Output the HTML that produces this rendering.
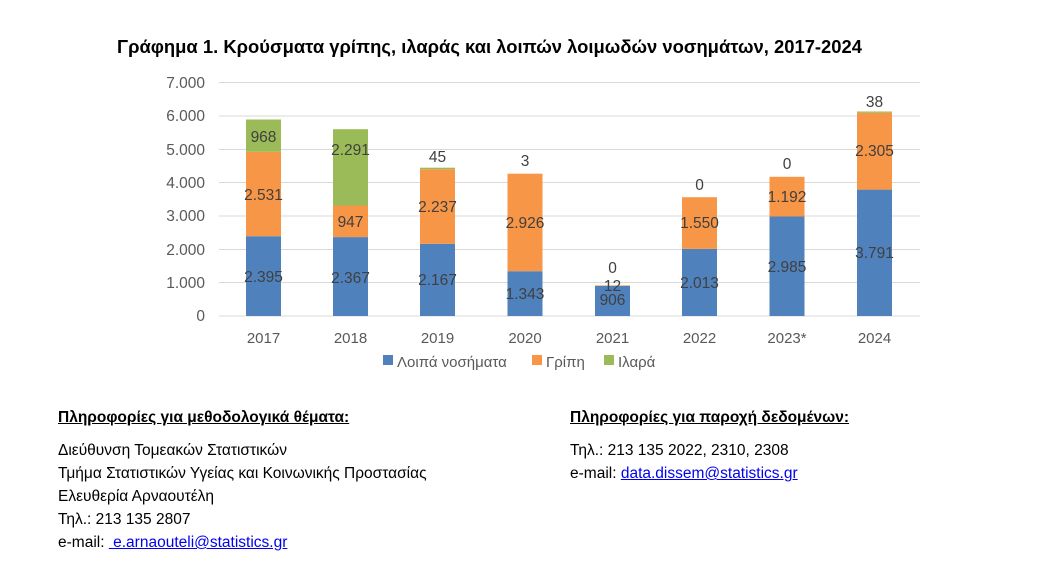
<!DOCTYPE html>
<html><head><meta charset="utf-8"><style>
body{margin:0;background:#fff;width:1057px;height:570px;overflow:hidden;font-family:"Liberation Sans","DejaVu Sans",sans-serif;}
svg{position:absolute;left:0;top:0}
.t{position:absolute;font-size:15.5px;color:#000;line-height:23px}
.b{font-weight:bold;text-decoration:underline}
a{color:#0000ee;text-decoration:underline}
</style></head><body>
<svg width="1057" height="570" font-family="Liberation Sans, DejaVu Sans, sans-serif">
<text x="117" y="53" font-size="18.4" font-weight="bold" fill="#000" textLength="745">Γράφημα 1. Κρούσματα γρίπης, ιλαράς και λοιπών λοιμωδών νοσημάτων, 2017-2024</text>
<g stroke="#d9d9d9" stroke-width="1">
<line x1="219" x2="920" y1="82.5" y2="82.5"/><line x1="219" x2="920" y1="116" y2="116"/><line x1="219" x2="920" y1="149.5" y2="149.5"/><line x1="219" x2="920" y1="182.5" y2="182.5"/><line x1="219" x2="920" y1="216" y2="216"/><line x1="219" x2="920" y1="249.5" y2="249.5"/><line x1="219" x2="920" y1="282.5" y2="282.5"/><line x1="219" x2="920" y1="316" y2="316"/>
</g>
<g font-size="15.5" fill="#595959" text-anchor="end">
<text x="205" y="88">7.000</text><text x="205" y="121">6.000</text><text x="205" y="155">5.000</text><text x="205" y="188">4.000</text><text x="205" y="221">3.000</text><text x="205" y="255">2.000</text><text x="205" y="288">1.000</text><text x="205" y="321">0</text>
</g>
<g>
<rect x="246" y="236.2" width="35" height="79.8" fill="#4f81bd"/><rect x="246" y="151.8" width="35" height="84.4" fill="#f79646"/><rect x="246" y="119.5" width="35" height="32.3" fill="#9bbb59"/>
<rect x="333" y="237.1" width="35" height="78.9" fill="#4f81bd"/><rect x="333" y="205.5" width="35" height="31.6" fill="#f79646"/><rect x="333" y="129.2" width="35" height="76.3" fill="#9bbb59"/>
<rect x="420" y="243.8" width="35" height="72.2" fill="#4f81bd"/><rect x="420" y="169.2" width="35" height="74.6" fill="#f79646"/><rect x="420" y="167.7" width="35" height="1.5" fill="#9bbb59"/>
<rect x="507.5" y="271.2" width="35" height="44.8" fill="#4f81bd"/><rect x="507.5" y="173.7" width="35" height="97.5" fill="#f79646"/>
<rect x="595" y="285.8" width="35" height="30.2" fill="#4f81bd"/><rect x="595" y="285.4" width="35" height="0.6" fill="#f79646"/>
<rect x="682" y="248.9" width="35" height="67.1" fill="#4f81bd"/><rect x="682" y="197.2" width="35" height="51.7" fill="#f79646"/>
<rect x="769.5" y="216.5" width="35" height="99.5" fill="#4f81bd"/><rect x="769.5" y="176.8" width="35" height="39.7" fill="#f79646"/>
<rect x="857" y="189.6" width="35" height="126.4" fill="#4f81bd"/><rect x="857" y="112.8" width="35" height="76.8" fill="#f79646"/><rect x="857" y="111.5" width="35" height="1.3" fill="#9bbb59"/>
</g>
<g font-size="15.5" fill="#404040" text-anchor="middle">
<text x="263.5" y="282">2.395</text><text x="263.5" y="200">2.531</text><text x="263.5" y="142">968</text>
<text x="350.5" y="283">2.367</text><text x="350.5" y="227">947</text><text x="350.5" y="155">2.291</text>
<text x="437.5" y="285">2.167</text><text x="437.5" y="212">2.237</text><text x="437.5" y="162">45</text>
<text x="525" y="299">1.343</text><text x="525" y="228">2.926</text><text x="525" y="166">3</text>
<text x="612.5" y="305">906</text><text x="612.5" y="291">12</text><text x="612.5" y="273">0</text>
<text x="699.5" y="288">2.013</text><text x="699.5" y="228">1.550</text><text x="699.5" y="190">0</text>
<text x="787" y="272">2.985</text><text x="787" y="202">1.192</text><text x="787" y="169">0</text>
<text x="874.5" y="258">3.791</text><text x="874.5" y="156">2.305</text><text x="874.5" y="107">38</text>
</g>
<g font-size="15" fill="#595959" text-anchor="middle">
<text x="263.5" y="343">2017</text><text x="350.5" y="343">2018</text><text x="437.5" y="343">2019</text><text x="525" y="343">2020</text><text x="612.5" y="343">2021</text><text x="699.5" y="343">2022</text><text x="787" y="343">2023*</text><text x="874.5" y="343">2024</text>
</g>
<g font-size="15" fill="#595959">
<rect x="383" y="355" width="10" height="10" fill="#4f81bd"/><text x="397" y="367">Λοιπά νοσήματα</text>
<rect x="532" y="355" width="10" height="10" fill="#f79646"/><text x="546" y="367">Γρίπη</text>
<rect x="604" y="355" width="10" height="10" fill="#9bbb59"/><text x="618" y="367">Ιλαρά</text>
</g>
</svg>
<div class="t" style="left:58px;top:406px">
<div class="b">Πληροφορίες για μεθοδολογικά θέματα:</div>
<div style="height:10px"></div>
<div>Διεύθυνση Τομεακών Στατιστικών</div>
<div>Τμήμα Στατιστικών Υγείας και Κοινωνικής Προστασίας</div>
<div>Ελευθερία Αρναουτέλη</div>
<div>Τηλ.: 213 135 2807</div>
<div>e-mail: <a>&nbsp;e.arnaouteli@statistics.gr</a></div>
</div>
<div class="t" style="left:570px;top:406px">
<div class="b">Πληροφορίες για παροχή δεδομένων:</div>
<div style="height:10px"></div>
<div>Τηλ.: 213 135 2022, 2310, 2308</div>
<div>e-mail: <a>data.dissem@statistics.gr</a></div>
</div>
</body></html>
